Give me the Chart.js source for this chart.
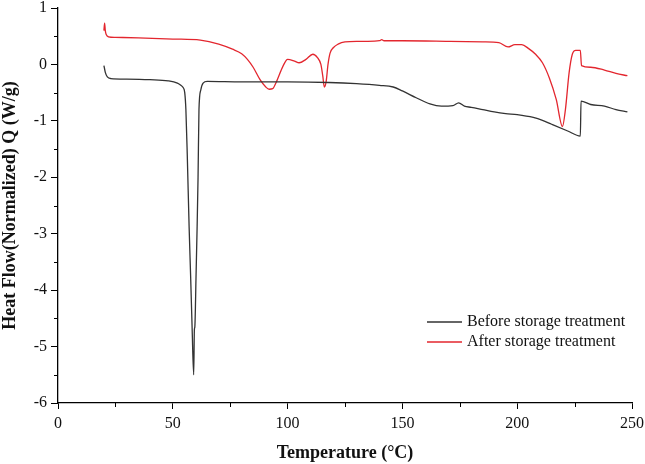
<!DOCTYPE html>
<html>
<head>
<meta charset="utf-8">
<script src="https://cdn.jsdelivr.net/npm/chart.js@4.4.0/dist/chart.umd.min.js"></script>
<style>
    body { margin: 0; background: #fff; }
    #wrap { width: 645px; height: 464px; }
</style>
</head>
<body>
<div id="wrap"><canvas id="dscChart"></canvas></div>
<script>
// Before storage treatment
const beforeTemp = [20, 20.6, 21.5, 23, 30, 40, 48, 52, 53.5, 54.5, 55.2, 55.7, 56.3, 57.1, 57.8, 58.4, 59.1, 59.4, 59.6, 60.1, 60.6, 61.0, 61.4, 62.2, 63.2, 65, 80, 100, 118, 130, 140, 146, 150, 156, 162, 167, 172, 174.5, 177, 180, 185, 190, 195, 200, 207, 211, 215, 222, 227.5, 227.8, 232, 238, 243, 248];
const beforeFlow = [-0.02, -0.14, -0.22, -0.25, -0.26, -0.27, -0.29, -0.33, -0.37, -0.41, -0.5, -0.8, -1.6, -2.87, -3.8, -4.65, -5.5, -4.7, -4.65, -3.8, -2.87, -2.0, -0.8, -0.45, -0.33, -0.30, -0.31, -0.31, -0.32, -0.34, -0.37, -0.40, -0.47, -0.59, -0.70, -0.74, -0.73, -0.68, -0.74, -0.76, -0.80, -0.84, -0.87, -0.89, -0.94, -0.99, -1.06, -1.18, -1.27, -0.65, -0.71, -0.74, -0.80, -0.84];

// After storage treatment
const afterTemp = [20, 20.3, 20.6, 21, 22, 25, 35, 50, 62, 70, 76, 80, 82.5, 85, 88, 90.5, 92, 93.5, 95, 98, 100, 103, 105, 108, 111, 113, 114.5, 115.3, 116, 116.8, 117.6, 118.5, 120, 122, 125, 130, 135, 140, 141, 142, 150, 170, 185, 192, 196, 199, 202, 205, 208, 211, 214, 217, 219.7, 221, 222.6, 224, 225.5, 227.5, 228, 232, 238, 243, 248];
const afterFlow = [0.6, 0.73, 0.6, 0.53, 0.49, 0.48, 0.47, 0.45, 0.43, 0.36, 0.27, 0.19, 0.09, -0.05, -0.27, -0.40, -0.44, -0.43, -0.32, -0.03, 0.09, 0.06, 0.03, 0.09, 0.18, 0.12, 0.0, -0.2, -0.40, -0.3, 0.0, 0.2, 0.3, 0.36, 0.40, 0.41, 0.41, 0.42, 0.44, 0.42, 0.42, 0.41, 0.40, 0.385, 0.31, 0.35, 0.35, 0.28, 0.18, 0.03, -0.24, -0.62, -1.10, -0.80, -0.15, 0.18, 0.25, 0.25, -0.02, -0.05, -0.10, -0.16, -0.20];

const seriesLabels = ['Before storage treatment', 'After storage treatment'];
const xTicks = [0, 50, 100, 150, 200, 250];
const yTicks = [-6, -5, -4, -3, -2, -1, 0, 1];

function toPoints(xs, ys) {
    return xs.map(function (x, i) { return { x: x, y: ys[i] }; });
}

const serif = 'Liberation Serif, Times New Roman, serif';

// minor ticks + legend inside the plot area
const extras = {
    id: 'extras',
    afterDraw: function (chart) {
        const ctx = chart.ctx;
        const xs = chart.scales.x;
        const ys = chart.scales.y;
        ctx.save();
        ctx.strokeStyle = '#000';
        ctx.lineWidth = 1;
        for (let v = 25; v < 250; v += 50) {
            const px = Math.round(xs.getPixelForValue(v)) + 0.5;
            ctx.beginPath();
            ctx.moveTo(px, ys.bottom);
            ctx.lineTo(px, ys.bottom + 4);
            ctx.stroke();
        }
        for (let v = -5.5; v < 1; v += 1) {
            const py = Math.round(ys.getPixelForValue(v)) + 0.5;
            ctx.beginPath();
            ctx.moveTo(xs.left, py);
            ctx.lineTo(xs.left - 4, py);
            ctx.stroke();
        }

        const ds = chart.data.datasets;
        ctx.font = '16px ' + serif;
        ctx.textBaseline = 'middle';
        ctx.fillStyle = '#111';
        ds.forEach(function (d, i) {
            const y = 322 + i * 20;
            ctx.strokeStyle = d.borderColor;
            ctx.lineWidth = 1.3;
            ctx.beginPath();
            ctx.moveTo(427, y);
            ctx.lineTo(462, y);
            ctx.stroke();
            ctx.fillText(d.label, 467, y);
        });
        ctx.restore();
    },
};

new Chart(document.getElementById('dscChart'), {
    type: 'scatter',
    data: {
        datasets: [
            {
                label: seriesLabels[0],
                data: toPoints(beforeTemp, beforeFlow),
                borderColor: '#333333',
                borderWidth: 1.3,
                showLine: true,
                pointRadius: 0,
                cubicInterpolationMode: 'monotone',
            },
            {
                label: seriesLabels[1],
                data: toPoints(afterTemp, afterFlow),
                borderColor: '#e3262e',
                borderWidth: 1.3,
                showLine: true,
                pointRadius: 0,
                cubicInterpolationMode: 'monotone',
            },
        ],
    },
    options: {
        responsive: true,
        maintainAspectRatio: false,
        animation: false,
        layout: {
            padding: { top: 8, right: 13, left: 0, bottom: 0 },
        },
        plugins: {
            legend: { display: false },
            tooltip: { enabled: false },
        },
        scales: {
            x: {
                type: 'linear',
                min: 0,
                max: 250,
                afterBuildTicks: function (scale) {
                    scale.ticks = xTicks.map(function (v) { return { value: v }; });
                },
                afterFit: function (scale) {
                    scale.height = 61;
                    scale.paddingLeft = 0;
                    scale.paddingRight = 0;
                },
                grid: {
                    drawOnChartArea: false,
                    tickLength: 6,
                    color: '#000',
                },
                border: { color: '#000', width: 1.3 },
                ticks: {
                    color: '#111',
                    padding: 5,
                    maxRotation: 0,
                    font: { family: serif, size: 16 },
                },
                title: {
                    display: true,
                    text: 'Temperature (°C)',
                    color: '#111',
                    padding: { top: 4, bottom: 0 },
                    font: { family: serif, size: 18, weight: 'bold' },
                },
            },
            y: {
                min: -6,
                max: 1,
                afterBuildTicks: function (scale) {
                    scale.ticks = yTicks.map(function (v) { return { value: v }; });
                },
                afterFit: function (scale) {
                    scale.width = 58;
                    scale.paddingTop = 0;
                    scale.paddingBottom = 0;
                },
                grid: {
                    drawOnChartArea: false,
                    tickLength: 7,
                    color: '#000',
                },
                border: { color: '#000', width: 1.3 },
                ticks: {
                    color: '#111',
                    padding: 4,
                    font: { family: serif, size: 16 },
                },
                title: {
                    display: true,
                    text: 'Heat Flow(Normalized) Q (W/g)',
                    color: '#111',
                    padding: { top: 0, bottom: 2 },
                    font: { family: serif, size: 18, weight: 'bold' },
                },
            },
        },
    },
    plugins: [extras],
});
</script>
</body>
</html>
